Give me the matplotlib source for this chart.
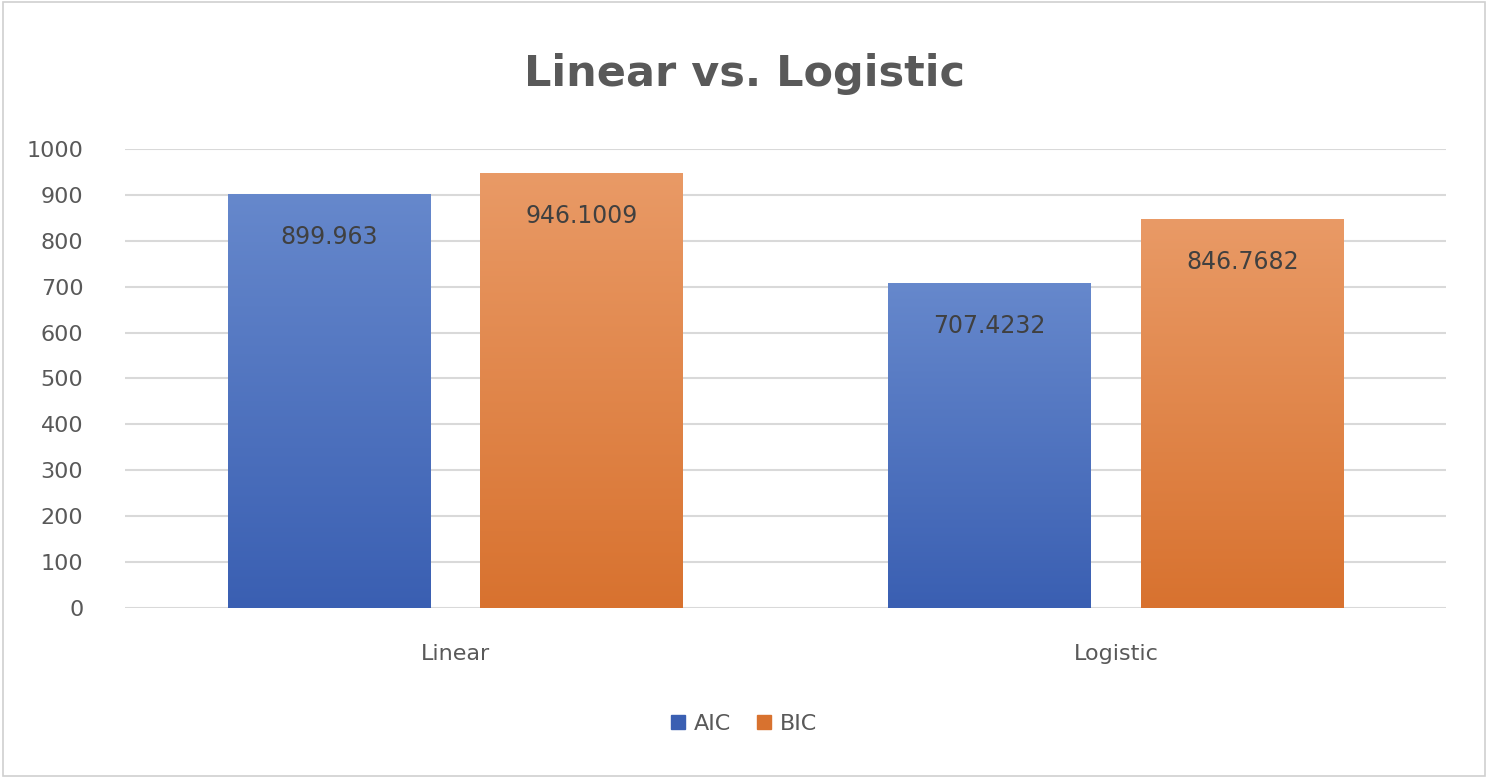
import matplotlib
matplotlib.use("Agg")
import matplotlib.pyplot as plt
import numpy as np
from matplotlib.patches import Rectangle

categories = ["Linear", "Logistic"]
series = ["AIC", "BIC"]
aic = [899.963, 707.4232]
bic = [946.1009, 846.7682]
labels_aic = ["899.963", "707.4232"]
labels_bic = ["946.1009", "846.7682"]

fig = plt.figure(figsize=(14.88, 7.78), dpi=100)
ax = fig.add_axes([0.084, 0.2185, 0.888, 0.59])
fig.patches.append(Rectangle((0.002, 0.003), 0.996, 0.994, transform=fig.transFigure,
                             fill=False, edgecolor="#d0d0d0", lw=1.2))

x = np.arange(len(categories))
w = 0.307
off = 0.191
cols = {"AIC": ("#6688cc", "#3a5fb2"), "BIC": ("#e99a66", "#d8722f")}
grad = np.linspace(0, 1, 256).reshape(-1, 1)

for vals, labs, sign, name in [(aic, labels_aic, -1, "AIC"), (bic, labels_bic, 1, "BIC")]:
    bars = ax.bar(x + sign * off, vals, w, color=cols[name][1], label=name, zorder=2)
    cmap = matplotlib.colors.LinearSegmentedColormap.from_list(name, [cols[name][1], cols[name][0]])
    for b, lab in zip(bars, labs):
        x0, h = b.get_x(), b.get_height()
        ax.imshow(grad, cmap=cmap, origin="lower", aspect="auto",
                  extent=(x0, x0 + b.get_width(), 0, h), zorder=3)
        ax.text(x0 + b.get_width() / 2, h - 92, lab, ha="center", va="center",
                fontsize=17, color="#404040", zorder=4)

ax.set_xlim(-0.5, 1.5)
ax.set_ylim(0, 1000)
ax.set_yticks(range(0, 1001, 100))
ax.set_xticks(x)
ax.set_xticklabels(categories)
ax.tick_params(axis="both", length=0, labelsize=16, colors="#595959")
ax.tick_params(axis="x", pad=26)
ax.tick_params(axis="y", pad=30)
ax.yaxis.grid(True, color="#d9d9d9", lw=1.5, zorder=0)
ax.set_axisbelow(True)
for s in ax.spines.values():
    s.set_visible(False)

fig.text(0.5, 0.905, "Linear vs. Logistic", ha="center", va="center",
         fontsize=31, fontweight="bold", color="#595959")
handles = [Rectangle((0, 0), 1, 1, color=cols[s][1]) for s in series]
fig.legend(handles, series, loc="center", bbox_to_anchor=(0.5, 0.07), ncol=2,
           frameon=False, fontsize=16, handlelength=0.6, handleheight=0.6,
           columnspacing=1.2, handletextpad=0.4, labelcolor="#595959")
fig.savefig("out.png", dpi=100)
